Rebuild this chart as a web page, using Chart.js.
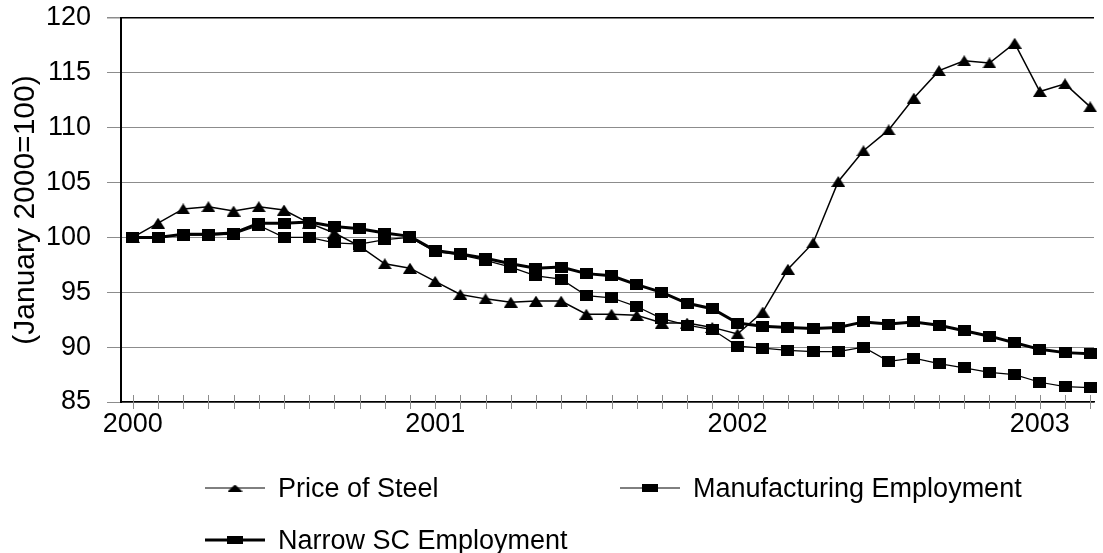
<!DOCTYPE html>
<html lang="en">
<head>
<meta charset="UTF-8">
<title>Price of Steel and Employment</title>
<script src="https://cdn.jsdelivr.net/npm/chart.js"></script>
<style>
    body { margin: 0; background: #fff; }
    .wrap { position: relative; width: 1103px; height: 553px; font-family: "Liberation Sans", Arial, sans-serif; }
    .chart-box { position: absolute; left: 0; top: 0; width: 1103px; height: 553px; }
    .legend-item { position: absolute; display: flex; align-items: center; height: 30px; font-size: 27px; color: #000; white-space: nowrap; }
    .legend-item canvas { margin-right: 13px; }
</style>
</head>
<body>
<div class="wrap">
    <div class="chart-box"><canvas id="steelChart"></canvas></div>
    <div class="legend-item" style="left:205px; top:473px;"><canvas id="lgSteel" width="60" height="16"></canvas><span>Price of Steel</span></div>
    <div class="legend-item" style="left:620px; top:473px;"><canvas id="lgManuf" width="60" height="16"></canvas><span>Manufacturing Employment</span></div>
    <div class="legend-item" style="left:205px; top:525px;"><canvas id="lgNarrow" width="60" height="16"></canvas><span>Narrow SC Employment</span></div>
</div>

<script>
// monthly, Jan 2000 .. Mar 2003
const months = [
    '2000-01','2000-02','2000-03','2000-04','2000-05','2000-06','2000-07','2000-08','2000-09','2000-10','2000-11','2000-12',
    '2001-01','2001-02','2001-03','2001-04','2001-05','2001-06','2001-07','2001-08','2001-09','2001-10','2001-11','2001-12',
    '2002-01','2002-02','2002-03','2002-04','2002-05','2002-06','2002-07','2002-08','2002-09','2002-10','2002-11','2002-12',
    '2003-01','2003-02','2003-03'
];
const yearTicks = ['2000', '2001', '2002', '2003'];

const steelPrice = [
    100.0, 101.3, 102.6, 102.8, 102.4, 102.8, 102.5, 101.3, 100.4, 99.2, 97.6, 97.2,
    96.0, 94.8, 94.4, 94.1, 94.2, 94.2, 93.0, 93.0, 92.9, 92.2, 92.2, 91.8,
    91.2, 93.2, 97.1, 99.5, 105.1, 107.9, 109.8, 112.7, 115.2, 116.1, 115.9, 117.7,
    113.3, 114.0, 111.9
];
const manufEmployment = [
    100.0, 100.0, 100.2, 100.2, 100.3, 101.1, 100.0, 100.0, 99.5, 99.4, 99.8, 100.0,
    98.7, 98.4, 97.9, 97.3, 96.5, 96.2, 94.7, 94.5, 93.7, 92.6, 92.0, 91.6,
    90.1, 89.9, 89.7, 89.6, 89.6, 90.0, 88.7, 89.0, 88.5, 88.1, 87.7, 87.5,
    86.8, 86.4, 86.3
];
const narrowScEmployment = [
    100.0, 100.0, 100.3, 100.3, 100.4, 101.3, 101.3, 101.4, 101.0, 100.8, 100.4, 100.1,
    98.8, 98.5, 98.1, 97.6, 97.2, 97.3, 96.7, 96.5, 95.7, 95.0, 94.0, 93.5,
    92.2, 91.9, 91.8, 91.7, 91.8, 92.3, 92.1, 92.3, 92.0, 91.5, 91.0, 90.4,
    89.8, 89.5, 89.4
];

function marker(shape, w, h) {
    const c = document.createElement('canvas');
    c.width = w; c.height = h;
    const g = c.getContext('2d');
    g.fillStyle = '#000';
    if (shape === 'tri') {
        g.beginPath();
        g.moveTo(w / 2, 0); g.lineTo(w, h); g.lineTo(0, h);
        g.closePath(); g.fill();
    } else {
        g.fillRect(0, 0, w, h);
    }
    return c;
}

function legendSample(id, shape, lineW, mw, mh) {
    const c = document.getElementById(id);
    const g = c.getContext('2d');
    g.strokeStyle = '#000';
    g.lineWidth = lineW;
    g.beginPath(); g.moveTo(0, 8); g.lineTo(60, 8); g.stroke();
    g.drawImage(marker(shape, mw, mh), 30 - mw / 2, 8 - mh / 2);
}
legendSample('lgSteel', 'tri', 1, 15, 7);
legendSample('lgManuf', 'rect', 1, 16, 8);
legendSample('lgNarrow', 'rect', 3, 16, 8);

const toXY = arr => arr.map((v, i) => ({ x: i, y: v }));

// tick marks that cross the x axis line
const crossTicks = {
    id: 'crossTicks',
    beforeDatasetsDraw(chart) {
        const sx = chart.scales.x, ctx = chart.ctx, y0 = chart.chartArea.bottom;
        ctx.save();
        ctx.strokeStyle = '#8c8c8c';
        ctx.lineWidth = 1;
        sx.ticks.forEach(t => {
            const px = Math.round(sx.getPixelForValue(t.value)) + 0.5;
            ctx.beginPath(); ctx.moveTo(px, y0 - 7); ctx.lineTo(px, y0 + 7); ctx.stroke();
        });
        ctx.restore();
    }
};

const font = { family: '"Liberation Sans", Arial, sans-serif', size: 27 };

new Chart(document.getElementById('steelChart'), {
    type: 'line',
    data: {
        datasets: [
            {
                label: 'Price of Steel',
                data: toXY(steelPrice),
                borderColor: '#000', borderWidth: 1.5,
                pointStyle: marker('tri', 14, 11), pointRadius: 6, clip: false
            },
            {
                label: 'Manufacturing Employment',
                data: toXY(manufEmployment),
                borderColor: '#000', borderWidth: 1.25,
                pointStyle: marker('rect', 13, 11), pointRadius: 6, clip: false
            },
            {
                label: 'Narrow SC Employment',
                data: toXY(narrowScEmployment),
                borderColor: '#000', borderWidth: 3,
                pointStyle: marker('rect', 13, 11), pointRadius: 6, clip: false
            }
        ]
    },
    options: {
        responsive: true,
        maintainAspectRatio: false,
        animation: false,
        layout: { padding: { top: 18, right: 3, left: 0, bottom: 0 } },
        plugins: { legend: { display: false }, tooltip: { enabled: false } },
        scales: {
            x: {
                type: 'linear',
                min: -0.47,
                max: 38.15,
                afterBuildTicks: s => { s.ticks = months.map((m, i) => ({ value: i })); },
                afterFit: s => { s.height = 151; },
                grid: { drawOnChartArea: false, color: 'rgba(0,0,0,0)', tickLength: 6 },
                border: { color: '#000', width: 1.5 },
                ticks: {
                    autoSkip: false, maxRotation: 0, padding: 0, color: '#000', font: font,
                    callback: v => {
                        const m = months[v];
                        return m && m.endsWith('-01') ? yearTicks[yearTicks.indexOf(m.slice(0, 4))] : '';
                    }
                }
            },
            y: {
                min: 85,
                max: 120,
                afterFit: s => { s.width = 121; s.paddingTop = 0; s.paddingBottom = 0; },
                grid: {
                    color: c => c.tick.value === 120 ? '#000' : '#8c8c8c',
                    lineWidth: c => c.tick.value === 120 ? 1.5 : 1,
                    tickColor: '#8c8c8c',
                    tickLength: 14
                },
                border: { color: '#000', width: 2 },
                ticks: { stepSize: 5, padding: 16, color: '#000', font: font },
                title: {
                    display: true,
                    text: '(January 2000=100)',
                    color: '#000',
                    font: { family: font.family, size: 30 },
                    padding: { top: 8, bottom: 0 }
                }
            }
        }
    },
    plugins: [crossTicks]
});
</script>
</body>
</html>
